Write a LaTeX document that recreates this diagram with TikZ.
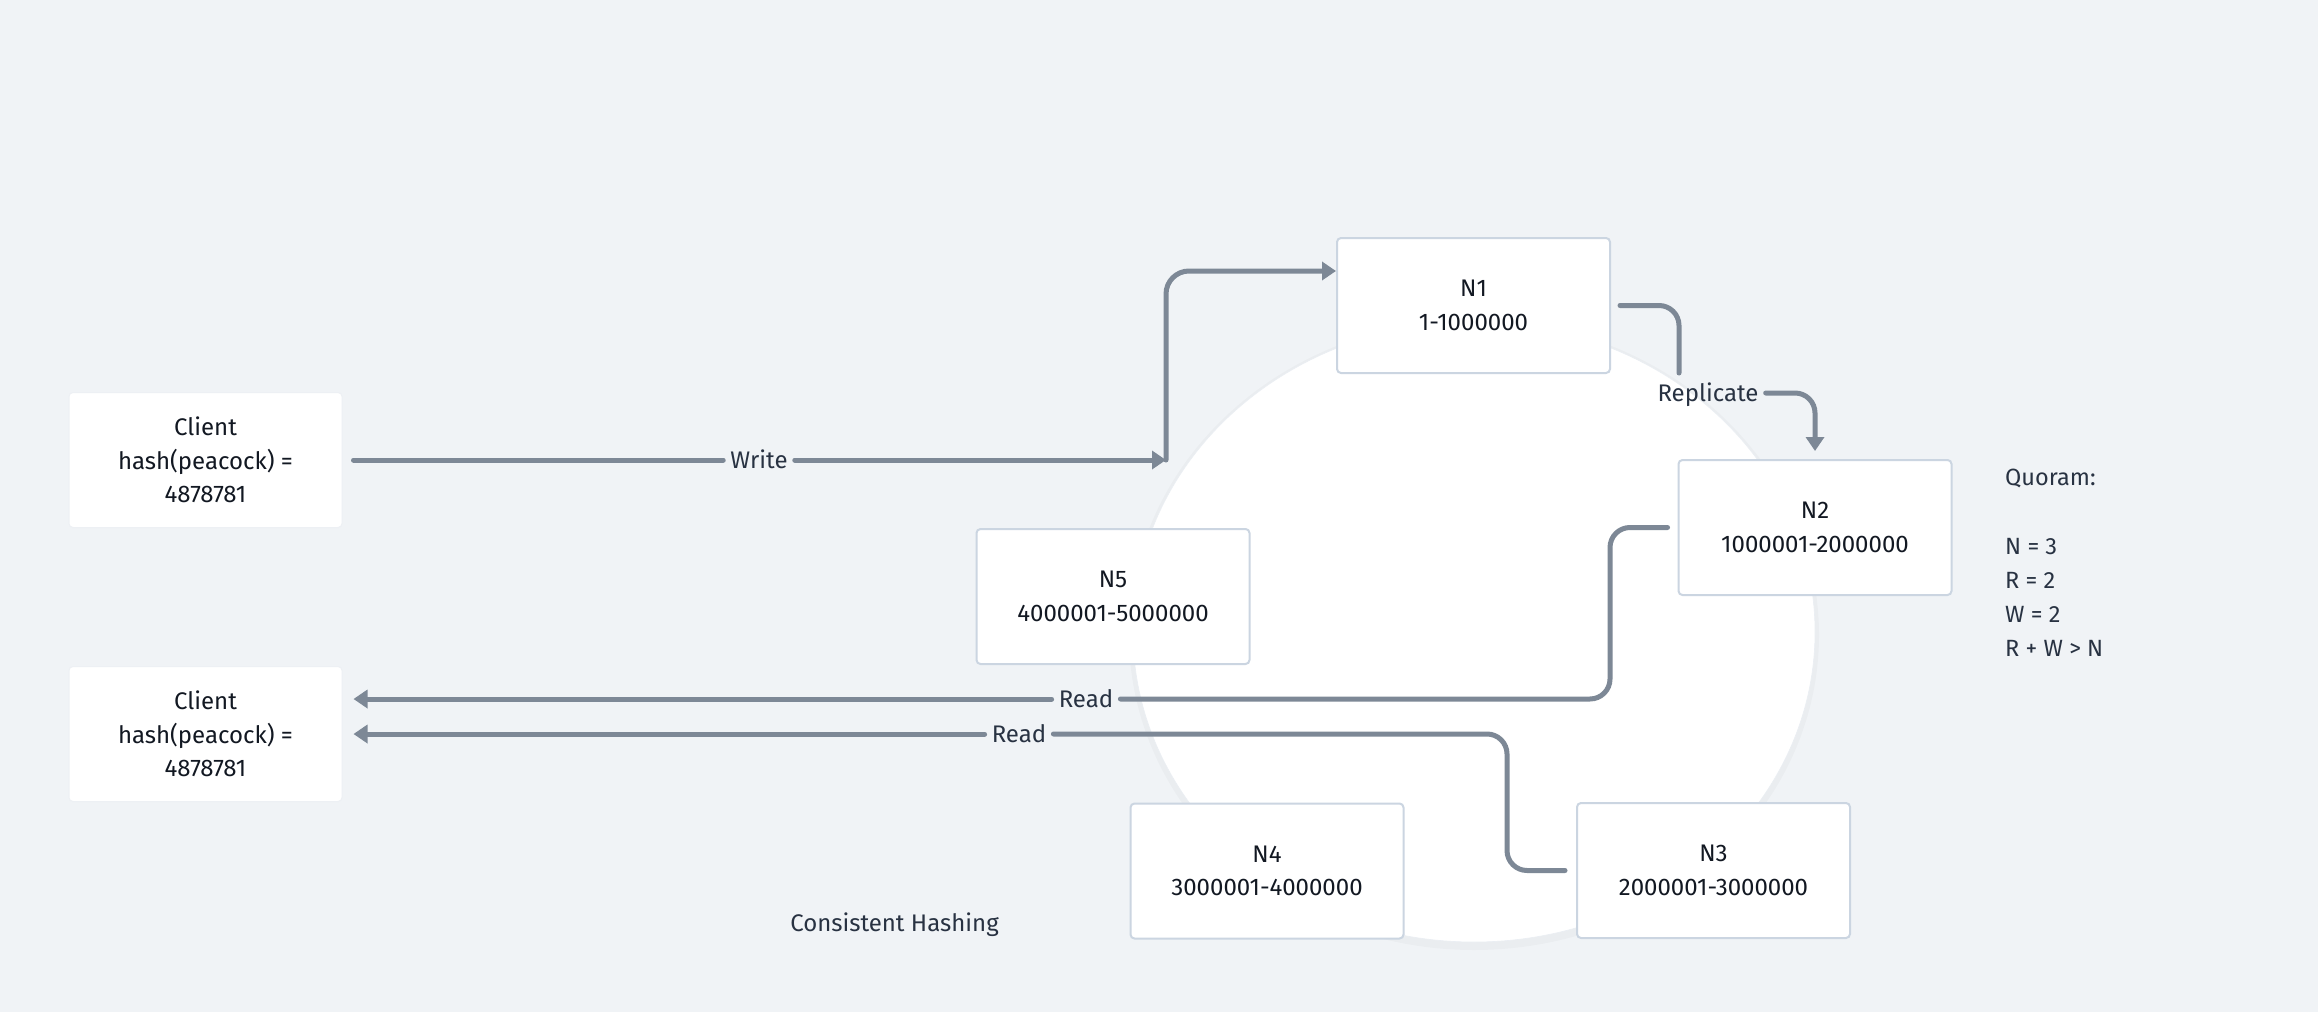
\documentclass[tikz,border=0pt]{standalone}
\usepackage{fontspec}
\setmainfont{Fira Sans}
\usetikzlibrary{arrows.meta}
\definecolor{bgc}{RGB}{240,243,246}
\definecolor{boxline}{RGB}{203,213,225}
\definecolor{conncol}{RGB}{125,136,150}
\definecolor{txt}{RGB}{18,24,34}
\definecolor{lbltxt}{RGB}{40,50,66}
\begin{document}
\begin{tikzpicture}[x=1pt,y=-1pt,
  nodebox/.style={draw=boxline, line width=2pt, fill=white, rounded corners=4pt,
    minimum width=273pt, minimum height=135pt, align=center, inner sep=0pt,
    font=\fontsize{24pt}{33.5pt}\selectfont, text=txt},
  clientbox/.style={nodebox, draw=boxline!35!white, line width=1pt},
  lbl/.style={font=\fontsize{24pt}{28pt}\selectfont, text=lbltxt, inner xsep=7pt,
    inner ysep=0pt, text height=17pt, text depth=0pt},
  qt/.style={font=\fontsize{23.5pt}{28pt}\selectfont, text=lbltxt, inner sep=0pt,
    text height=16pt, text depth=0pt, anchor=west},
  connline/.style={draw=conncol, line width=5pt, line cap=round, rounded corners=20pt},
  tip/.style={-{Triangle[length=14pt,width=18pt]}}
]
\fill[bgc] (0,0) rectangle (2318,1012);
\useasboundingbox (0,0) rectangle (2318,1012);

% ring
\fill[black, opacity=0.025] (1474,635) ellipse [x radius=345pt, y radius=315pt];
\fill[white] (1474,632) ellipse [x radius=341pt, y radius=310pt];
\draw[boxline!40!white, line width=0.6pt] (1474,632) ellipse [x radius=341pt, y radius=310pt];

% nodes
\node[clientbox] (c1) at (205.5,460) {Client\\hash(peacock) =\\4878781};
\node[clientbox] (c2) at (205.5,734) {Client\\hash(peacock) =\\4878781};
\node[nodebox] (n1) at (1473.5,305.5) {N1\\1-1000000};
\node[nodebox] (n2) at (1815,527.5) {N2\\1000001-2000000};
\node[nodebox] (n3) at (1713.5,870.5) {N3\\2000001-3000000};
\node[nodebox] (n4) at (1267,871) {N4\\3000001-4000000};
\node[nodebox] (n5) at (1113,596.5) {N5\\4000001-5000000};

% labels
\node[lbl] (wl) at (759,460) {Write};
\node[lbl] (rl) at (1708,393) {Replicate};
\node[lbl] (rd1) at (1086,699) {Read};
\node[lbl] (rd2) at (1019,734) {Read};

% write
\coordinate (wp) at (1166,460);
\draw[connline, shorten <=11pt] (c1.east) -- (wl.west);
\draw[connline, tip] (wl.east) -- (wp);
\draw[connline, rounded corners=23pt, tip] (wp) |- ([yshift=-34pt]n1.north west);

% replicate
\coordinate (rc1) at (1679,373);
\draw[connline] ([xshift=9pt]n1.east) -| (rc1);
\draw[connline, tip] (rl.east) -| ([yshift=8pt]n2.north);

% read from N2
\coordinate (k1) at (1610,699);
\draw[connline] ([xshift=-10pt]n2.west) -| (k1) -- (rd1.east);
\draw[connline, tip, shorten >=11pt] (rd1.west) -- (rd1.west -| c2.east);

% read from N3
\coordinate (k2) at (1507,734);
\draw[connline] ([xshift=-11pt]n3.west) -| (k2) -- (rd2.east);
\draw[connline, tip, shorten >=11pt] (rd2.west) -- (c2.east);

% texts
\node[lbl, inner xsep=0pt] (ch) at (894.5,923) {Consistent Hashing};
\node[qt] (q0) at (2005,477) {Quoram:};
\node[qt] (q1) at (2005,546) {N = 3};
\node[qt] (q2) at (2005,580) {R = 2};
\node[qt] (q3) at (2005,614) {W = 2};
\node[qt] (q4) at (2005,648) {R + W > N};
\end{tikzpicture}
\end{document}
